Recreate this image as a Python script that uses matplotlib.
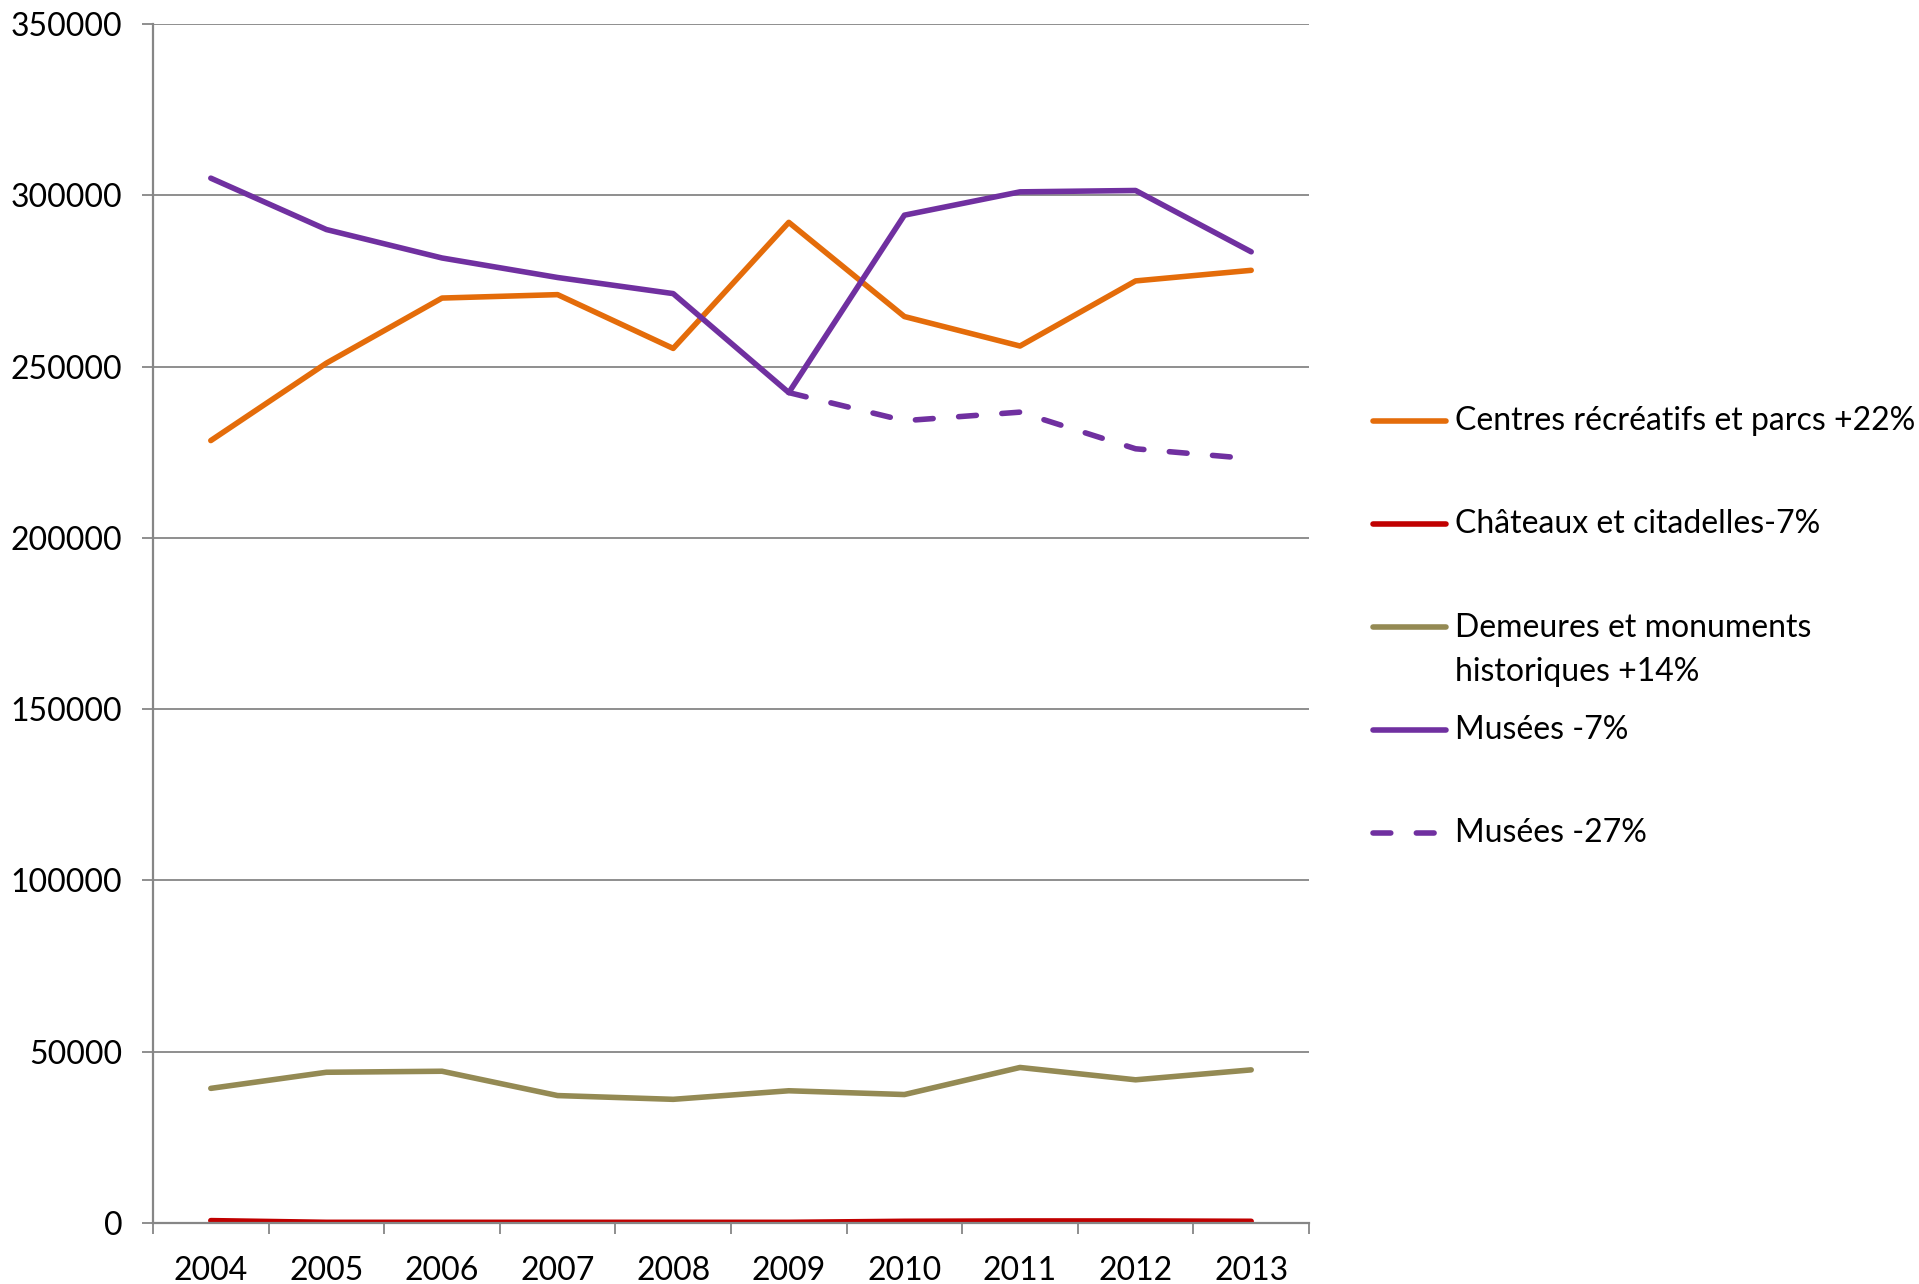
import matplotlib
matplotlib.use("Agg")
import matplotlib.pyplot as plt
from matplotlib.lines import Line2D

plt.rcParams["font.family"] = ["Lato", "DejaVu Sans"]

years = ["2004", "2005", "2006", "2007", "2008", "2009", "2010", "2011", "2012", "2013"]

centres = [228400, 251000, 270000, 271000, 255300, 292100, 264600, 256000, 275000, 278100]
chateaux = [700, 200, 200, 200, 200, 200, 500, 600, 600, 500]
demeures = [39300, 44000, 44300, 37200, 36100, 38600, 37500, 45400, 41800, 44700]
musees = [305000, 290000, 281700, 276000, 271300, 242400, 294200, 301000, 301400, 283500]
# dashed variant starts at 2009
musees_dash_years = ["2009", "2010", "2011", "2012", "2013"]
musees_dash = [242400, 234200, 236700, 226000, 223100]

ORANGE = "#E46C0A"
RED = "#C00000"
OLIVE = "#948A54"
PURPLE = "#7030A0"
GRID = "#868686"

W, H = 1919, 1284
fig = plt.figure(figsize=(W / 100, H / 100), dpi=100)
ax = fig.add_axes([153 / W, 1 - 1223 / H, (1309 - 153) / W, (1223 - 24) / H])

LW = 4.0
DASH = (3.2, 4.6)
x = list(range(len(years)))
xd = [years.index(y) for y in musees_dash_years]
kw = dict(lw=LW, solid_capstyle="round", solid_joinstyle="round")
ax.plot(x, demeures, color=OLIVE, **kw)
ax.plot(x, centres, color=ORANGE, **kw)
ax.plot(x, musees, color=PURPLE, **kw)
ax.plot(xd, musees_dash, color=PURPLE, lw=LW, dashes=DASH,
        dash_capstyle="round")
ax.plot(x, chateaux, color=RED, **kw)

ax.set_xlim(-0.5, len(years) - 0.5)
ax.set_ylim(0, 350000)
ax.set_yticks(range(0, 350001, 50000))
ax.set_yticklabels([str(v) for v in range(0, 350001, 50000)])
ax.set_xticks(x)
ax.set_xticklabels(years)
ax.set_xticks([i - 0.5 for i in range(len(years) + 1)], minor=True)

ax.yaxis.grid(True, color=GRID, lw=1.3)
ax.set_axisbelow(True)
for s in ["top", "right"]:
    ax.spines[s].set_visible(False)
for s in ["left", "bottom"]:
    ax.spines[s].set_color(GRID)
    ax.spines[s].set_linewidth(1.6)

ax.tick_params(axis="y", length=8, width=1.3, color=GRID, pad=14, labelsize=23)
ax.tick_params(axis="x", which="major", length=0, pad=24, labelsize=23)
ax.tick_params(axis="x", which="minor", length=8, width=1.3, color=GRID)

# legend drawn by hand to match spacing of the original
entries = [
    ("Centres récréatifs et parcs +22%", ORANGE, None, 421),
    ("Châteaux et citadelles-7%", RED, None, 524),
    ("Demeures et monuments\nhistoriques +14%", OLIVE, None, 627),
    ("Musées -7%", PURPLE, None, 730),
    ("Musées -27%", PURPLE, DASH, 833),
]
for label, col, dash, yy in entries:
    yf = 1 - yy / H
    ln = Line2D([1373 / W, 1446 / W], [yf, yf], transform=fig.transFigure,
                color=col, lw=LW, solid_capstyle="round", dash_capstyle="round")
    if dash:
        ln.set_dashes(dash)
    fig.add_artist(ln)
    fig.text(1455 / W, yf, label, fontsize=23, va="top" if "\n" in label else "center",
             linespacing=1.6,
             transform=fig.transFigure)

# the two-line label is top-aligned; nudge it so its first line sits on the marker
fig.texts[2].set_y(1 - 613 / H)

fig.savefig("out.png", dpi=100)
